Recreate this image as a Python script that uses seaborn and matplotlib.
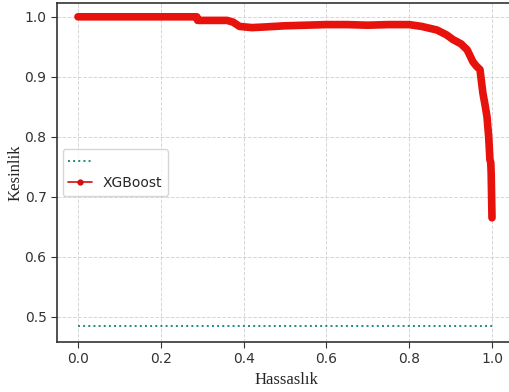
import numpy as np
import pandas as pd
import matplotlib
matplotlib.use("Agg")
import matplotlib.pyplot as plt
from matplotlib.lines import Line2D
import seaborn as sns

# Precision-recall curve
recall = [0.0, 0.10, 0.20, 0.287, 0.289, 0.33, 0.36, 0.375, 0.39, 0.42, 0.45,
          0.50, 0.55, 0.60, 0.65, 0.70, 0.75, 0.80, 0.83, 0.867, 0.89, 0.906,
          0.925, 0.94, 0.954, 0.962, 0.971, 0.978, 0.984, 0.988, 0.992, 0.995,
          0.997, 0.998, 1.0]
precision = [1.0, 1.0, 1.0, 1.0, 0.994, 0.994, 0.994, 0.991, 0.984, 0.982, 0.983,
             0.985, 0.986, 0.987, 0.987, 0.986, 0.987, 0.987, 0.984, 0.978, 0.970,
             0.962, 0.955, 0.945, 0.925, 0.918, 0.912, 0.873, 0.850, 0.833, 0.800,
             0.762, 0.757, 0.740, 0.665]
baseline = 0.485
model_name = "XGBoost"

df = pd.DataFrame({"recall": recall, "precision": precision})
base = pd.DataFrame({"recall": [0.0, 1.0], "precision": [baseline, baseline]})

sns.set_style("white")
fig = plt.figure(figsize=(5.1, 3.92), dpi=100)
ax = fig.add_axes([57 / 510, (392 - 342) / 392, (516 - 57) / 510, (342 - 3) / 392])

sns.lineplot(data=base, x="recall", y="precision", ax=ax, color="#1f8a7a",
             linestyle=":", linewidth=1.4, sort=False)
sns.lineplot(data=df, x="recall", y="precision", ax=ax, color="#e8120c",
             linewidth=5.5, sort=False, estimator=None)
for ln in ax.lines:
    ln.set_solid_capstyle("round")

ax.set_xlim(-0.0507, 1.058)
ax.set_ylim(0.458, 1.023)
ax.set_xticks(np.arange(0, 1.01, 0.2))
ax.set_yticks(np.arange(0.5, 1.01, 0.1))
ax.tick_params(axis="both", labelsize=10, labelcolor="#333333", length=4,
               direction="out", color="#333333", left=True, bottom=True)
ax.grid(True, linestyle="--", color="#cccccc", linewidth=0.7, alpha=0.8)
for s in ax.spines.values():
    s.set_color("#333333")
    s.set_linewidth(1.2)

ax.set_xlabel("Hassaslık", family="Liberation Serif", fontsize=12, labelpad=4)
ax.set_ylabel("Kesinlik", family="Liberation Serif", fontsize=12, labelpad=1)

handles = [
    Line2D([], [], color="#1f8a7a", linestyle=":", linewidth=1.4),
    Line2D([], [], color="#d01010", linewidth=1.2, marker="o", markersize=3.5),
]
ax.legend(handles, ["", model_name], loc="center left", bbox_to_anchor=(0.0, 0.5),
          fontsize=10, frameon=True, edgecolor="#cccccc", borderpad=0.4,
          handlelength=1.7, handletextpad=0.8, borderaxespad=0.4)

fig.savefig("out.png", dpi=100)
